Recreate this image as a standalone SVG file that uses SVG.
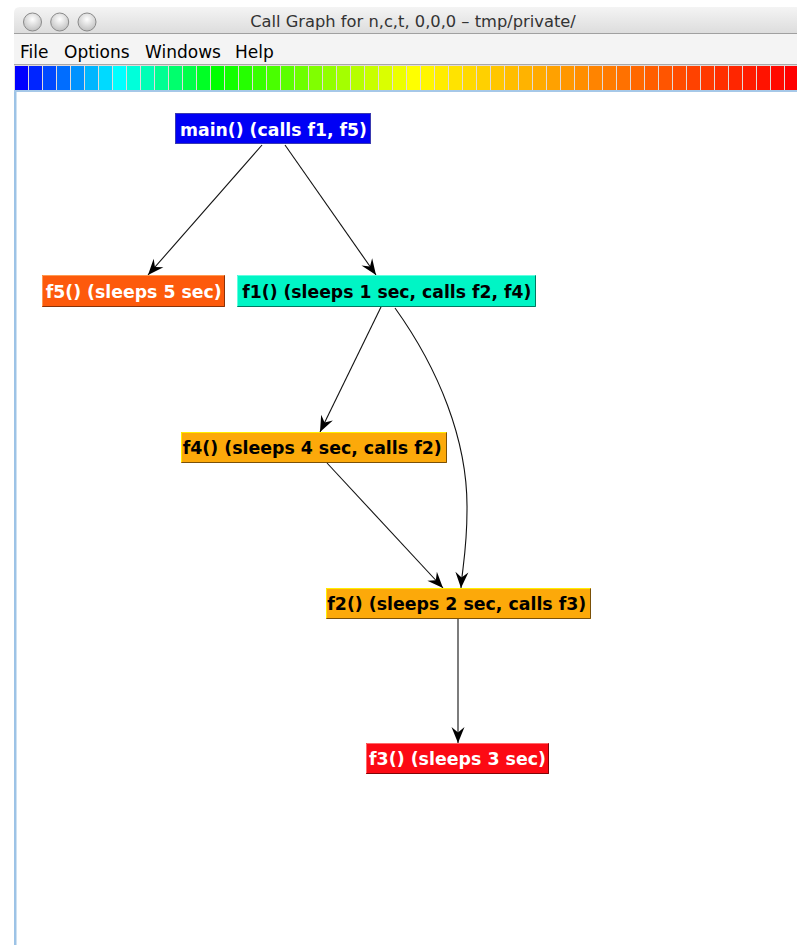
<svg xmlns="http://www.w3.org/2000/svg" width="797" height="945" viewBox="0 0 797 945">
<defs>
<linearGradient id="tb" x1="0" y1="0" x2="0" y2="1"><stop offset="0" stop-color="#f4f4f4"/><stop offset="1" stop-color="#dcdcdc"/></linearGradient>
<radialGradient id="btn" cx="0.5" cy="0.35" r="0.6"><stop offset="0" stop-color="#ffffff"/><stop offset="1" stop-color="#c4c4c4"/></radialGradient>
<marker id="ah" viewBox="-17 -7 18 14" markerWidth="18" markerHeight="14" refX="0" refY="0" orient="auto" markerUnits="userSpaceOnUse"><path d="M0,0 L-16,-6.5 L-10.5,0 L-16,6.5 Z" fill="#000"/></marker>
</defs>
<style>
.lbl{font-family:"DejaVu Sans","Liberation Sans",sans-serif;font-weight:bold;font-size:18.5px}
.w{fill:#ffffff}
.b{fill:#000000}
.menu{font-family:"DejaVu Sans","Liberation Sans",sans-serif;font-size:17px;fill:#000}
.edge{fill:none;stroke:#111;stroke-width:1.1;marker-end:url(#ah)}
.hi{fill:none;stroke-width:1}
</style>
<rect x="0" y="0" width="797" height="945" fill="#ffffff"/>
<!-- window chrome -->
<path d="M14,34 L14,13 Q14,7 20,7 L797,7 L797,34 Z" fill="url(#tb)"/>
<line x1="14" y1="33.5" x2="797" y2="33.5" stroke="#a0a0a0"/>
<circle cx="32.5" cy="22" r="9" fill="url(#btn)" stroke="#8a8a8a"/>
<circle cx="59.7" cy="22" r="9" fill="url(#btn)" stroke="#8a8a8a"/>
<circle cx="87" cy="22" r="9" fill="url(#btn)" stroke="#8a8a8a"/>
<text x="413" y="27" text-anchor="middle" style="font-family:'DejaVu Sans','Liberation Sans',sans-serif;font-size:16.3px;fill:#333">Call Graph for n,c,t, 0,0,0 – tmp/private/</text>
<rect x="14" y="34" width="783" height="30" fill="#f4f4f4"/>
<text class="menu" x="20" y="58">File</text>
<text class="menu" x="64" y="58">Options</text>
<text class="menu" x="145" y="58">Windows</text>
<text class="menu" x="235" y="58">Help</text>
<line x1="14" y1="64.5" x2="797" y2="64.5" stroke="#a8a8a8"/>
<rect x="14" y="65" width="783" height="26" fill="#e2dada"/>
<g id="strip">
<rect x="15" y="66" width="13" height="24" fill="hsl(240,100%,50%)"/>
<rect x="29" y="66" width="13" height="24" fill="hsl(231.4,100%,50%)"/>
<rect x="43" y="66" width="13" height="24" fill="hsl(222.9,100%,50%)"/>
<rect x="57" y="66" width="13" height="24" fill="hsl(214.3,100%,50%)"/>
<rect x="71" y="66" width="13" height="24" fill="hsl(205.7,100%,50%)"/>
<rect x="85" y="66" width="13" height="24" fill="hsl(197.1,100%,50%)"/>
<rect x="99" y="66" width="13" height="24" fill="hsl(188.6,100%,50%)"/>
<rect x="113" y="66" width="13" height="24" fill="hsl(180,100%,50%)"/>
<rect x="127" y="66" width="13" height="24" fill="hsl(171.4,100%,50%)"/>
<rect x="141" y="66" width="13" height="24" fill="hsl(162.9,100%,50%)"/>
<rect x="155" y="66" width="13" height="24" fill="hsl(154.3,100%,50%)"/>
<rect x="169" y="66" width="13" height="24" fill="hsl(145.7,100%,50%)"/>
<rect x="183" y="66" width="13" height="24" fill="hsl(137.1,100%,50%)"/>
<rect x="197" y="66" width="13" height="24" fill="hsl(128.6,100%,50%)"/>
<rect x="211" y="66" width="13" height="24" fill="hsl(120,100%,50%)"/>
<rect x="225" y="66" width="13" height="24" fill="hsl(115.7,100%,50%)"/>
<rect x="239" y="66" width="13" height="24" fill="hsl(111.4,100%,50%)"/>
<rect x="253" y="66" width="13" height="24" fill="hsl(107.1,100%,50%)"/>
<rect x="267" y="66" width="13" height="24" fill="hsl(102.9,100%,50%)"/>
<rect x="281" y="66" width="13" height="24" fill="hsl(98.6,100%,50%)"/>
<rect x="295" y="66" width="13" height="24" fill="hsl(94.3,100%,50%)"/>
<rect x="309" y="66" width="13" height="24" fill="hsl(90,100%,50%)"/>
<rect x="323" y="66" width="13" height="24" fill="hsl(85.7,100%,50%)"/>
<rect x="337" y="66" width="13" height="24" fill="hsl(81.4,100%,50%)"/>
<rect x="351" y="66" width="13" height="24" fill="hsl(77.1,100%,50%)"/>
<rect x="365" y="66" width="13" height="24" fill="hsl(72.9,100%,50%)"/>
<rect x="379" y="66" width="13" height="24" fill="hsl(68.6,100%,50%)"/>
<rect x="393" y="66" width="13" height="24" fill="hsl(64.3,100%,50%)"/>
<rect x="407" y="66" width="13" height="24" fill="hsl(60,100%,50%)"/>
<rect x="421" y="66" width="13" height="24" fill="hsl(57.8,100%,50%)"/>
<rect x="435" y="66" width="13" height="24" fill="hsl(55.6,100%,50%)"/>
<rect x="449" y="66" width="13" height="24" fill="hsl(53.3,100%,50%)"/>
<rect x="463" y="66" width="13" height="24" fill="hsl(51.1,100%,50%)"/>
<rect x="477" y="66" width="13" height="24" fill="hsl(48.9,100%,50%)"/>
<rect x="491" y="66" width="13" height="24" fill="hsl(46.7,100%,50%)"/>
<rect x="505" y="66" width="13" height="24" fill="hsl(44.4,100%,50%)"/>
<rect x="519" y="66" width="13" height="24" fill="hsl(42.2,100%,50%)"/>
<rect x="533" y="66" width="13" height="24" fill="hsl(40,100%,50%)"/>
<rect x="547" y="66" width="13" height="24" fill="hsl(37.8,100%,50%)"/>
<rect x="561" y="66" width="13" height="24" fill="hsl(35.6,100%,50%)"/>
<rect x="575" y="66" width="13" height="24" fill="hsl(33.3,100%,50%)"/>
<rect x="589" y="66" width="13" height="24" fill="hsl(31.1,100%,50%)"/>
<rect x="603" y="66" width="13" height="24" fill="hsl(28.9,100%,50%)"/>
<rect x="617" y="66" width="13" height="24" fill="hsl(26.7,100%,50%)"/>
<rect x="631" y="66" width="13" height="24" fill="hsl(24.4,100%,50%)"/>
<rect x="645" y="66" width="13" height="24" fill="hsl(22.2,100%,50%)"/>
<rect x="659" y="66" width="13" height="24" fill="hsl(20,100%,50%)"/>
<rect x="673" y="66" width="13" height="24" fill="hsl(17.8,100%,50%)"/>
<rect x="687" y="66" width="13" height="24" fill="hsl(15.6,100%,50%)"/>
<rect x="701" y="66" width="13" height="24" fill="hsl(13.3,100%,50%)"/>
<rect x="715" y="66" width="13" height="24" fill="hsl(11.1,100%,50%)"/>
<rect x="729" y="66" width="13" height="24" fill="hsl(8.9,100%,50%)"/>
<rect x="743" y="66" width="13" height="24" fill="hsl(6.7,100%,50%)"/>
<rect x="757" y="66" width="13" height="24" fill="hsl(4.4,100%,50%)"/>
<rect x="771" y="66" width="13" height="24" fill="hsl(2.2,100%,50%)"/>
<rect x="785" y="66" width="13" height="24" fill="hsl(0,100%,50%)"/>
</g>
<rect x="14" y="90" width="783" height="2" fill="#a6c8e8"/>
<rect x="14" y="92" width="2.5" height="853" fill="#9dc3e6"/>
<!-- connectors -->
<g id="connectors">
<path class="edge" d="M262,145 L148,275"/>
<path class="edge" d="M285,145 L376,275"/>
<path class="edge" d="M381,307 L320,432"/>
<path class="edge" d="M395,308 C438,368 468,440 467,510 C467,550 462,570 461,588"/>
<path class="edge" d="M327,463 L443,588"/>
<path class="edge" d="M458,619 L458,743"/>
</g>
<!-- nodes -->
<g id="main">
<rect x="175" y="113" width="196" height="31" fill="#0000f5"/>
<rect x="175.5" y="113.5" width="195" height="30" class="hi" stroke="#3a3ab0"/>
<text class="lbl w" x="180" y="135.5" textLength="187" lengthAdjust="spacingAndGlyphs">main() (calls f1, f5)</text>
</g>
<g id="f5">
<rect x="42" y="275" width="183" height="32" fill="#fd5a0c"/>
<polyline class="hi" points="42.5,306 42.5,275.5 224.5,275.5" stroke="#ff9a50"/>
<polyline class="hi" points="42.5,306.5 224.5,306.5 224.5,275.5" stroke="#8a3208"/>
<text class="lbl w" x="45.7" y="297.5" textLength="176" lengthAdjust="spacingAndGlyphs">f5() (sleeps 5 sec)</text>
</g>
<g id="f1">
<rect x="237" y="275" width="299" height="32" fill="#00f5c5"/>
<polyline class="hi" points="237.5,306 237.5,275.5 535.5,275.5" stroke="#60ffe0"/>
<polyline class="hi" points="237.5,306.5 535.5,306.5 535.5,275.5" stroke="#007a62"/>
<text class="lbl b" x="242.3" y="297.5" textLength="289" lengthAdjust="spacingAndGlyphs">f1() (sleeps 1 sec, calls f2, f4)</text>
</g>
<g id="f4">
<rect x="181" y="432" width="266" height="31" fill="#fca90a"/>
<polyline class="hi" points="181.5,462 181.5,432.5 446.5,432.5" stroke="#ffee00"/>
<polyline class="hi" points="181.5,462.5 446.5,462.5 446.5,432.5" stroke="#7a5008"/>
<text class="lbl b" x="182.7" y="454" textLength="259" lengthAdjust="spacingAndGlyphs">f4() (sleeps 4 sec, calls f2)</text>
</g>
<g id="f2">
<rect x="326" y="588" width="265" height="31" fill="#fca90a"/>
<polyline class="hi" points="326.5,618 326.5,588.5 590.5,588.5" stroke="#ffee00"/>
<polyline class="hi" points="326.5,618.5 590.5,618.5 590.5,588.5" stroke="#7a5008"/>
<text class="lbl b" x="327.3" y="610" textLength="259" lengthAdjust="spacingAndGlyphs">f2() (sleeps 2 sec, calls f3)</text>
</g>
<g id="f3">
<rect x="366" y="743" width="183" height="31" fill="#fc0a14"/>
<polyline class="hi" points="366.5,773 366.5,743.5 548.5,743.5" stroke="#ff6a6a"/>
<polyline class="hi" points="366.5,773.5 548.5,773.5 548.5,743.5" stroke="#800508"/>
<text class="lbl w" x="369" y="765" textLength="177" lengthAdjust="spacingAndGlyphs">f3() (sleeps 3 sec)</text>
</g>
</svg>
